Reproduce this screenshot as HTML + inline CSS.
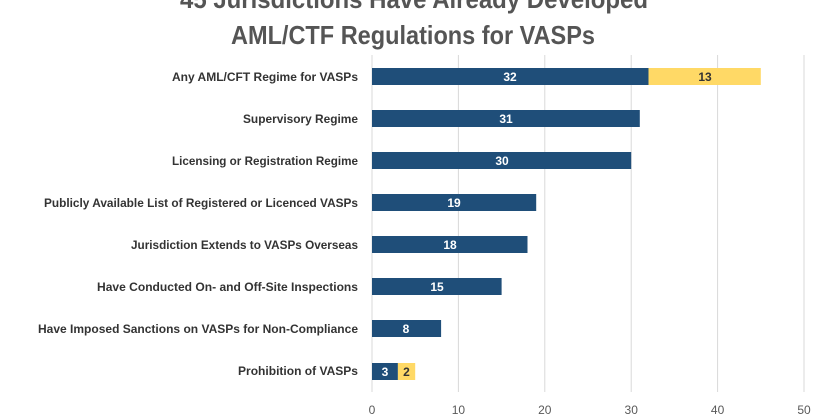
<!DOCTYPE html>
<html><head><style>body{margin:0;background:#fff}svg{display:block}</style></head>
<body>
<svg width="830" height="420" xmlns="http://www.w3.org/2000/svg" font-family="Liberation Sans, sans-serif">
<rect width="830" height="420" fill="#fff"/>
<g font-weight="bold" fill="#555" font-size="26">
<text x="180" y="8" textLength="468" lengthAdjust="spacingAndGlyphs">45 Jurisdictions Have Already Developed</text>
<text x="231" y="44" textLength="364" lengthAdjust="spacingAndGlyphs">AML/CTF Regulations for VASPs</text>
</g>
<g stroke="#d9d9d9" stroke-width="1">
<line x1="372" y1="55" x2="372" y2="392"/>
<line x1="458.4" y1="55" x2="458.4" y2="392"/>
<line x1="544.8" y1="55" x2="544.8" y2="392"/>
<line x1="631.2" y1="55" x2="631.2" y2="392"/>
<line x1="717.6" y1="55" x2="717.6" y2="392"/>
<line x1="804" y1="55" x2="804" y2="392"/>
</g>
<g font-size="12" fill="#595959" text-anchor="middle">
<text x="372" y="414">0</text><text x="458.4" y="414">10</text><text x="544.8" y="414">20</text>
<text x="631.2" y="414">30</text><text x="717.6" y="414">40</text><text x="804" y="414">50</text>
</g>
<g font-size="12" font-weight="bold" fill="#333">
<text x="172" y="81" textLength="186" lengthAdjust="spacingAndGlyphs">Any AML/CFT Regime for VASPs</text>
<text x="243" y="123" textLength="115" lengthAdjust="spacingAndGlyphs">Supervisory Regime</text>
<text x="172" y="165" textLength="186" lengthAdjust="spacingAndGlyphs">Licensing or Registration Regime</text>
<text x="44" y="207" textLength="314" lengthAdjust="spacingAndGlyphs">Publicly Available List of Registered or Licenced VASPs</text>
<text x="131" y="249" textLength="227" lengthAdjust="spacingAndGlyphs">Jurisdiction Extends to VASPs Overseas</text>
<text x="97" y="291" textLength="261" lengthAdjust="spacingAndGlyphs">Have Conducted On- and Off-Site Inspections</text>
<text x="38" y="333" textLength="320" lengthAdjust="spacingAndGlyphs">Have Imposed Sanctions on VASPs for Non-Compliance</text>
<text x="238" y="375" textLength="120" lengthAdjust="spacingAndGlyphs">Prohibition of VASPs</text>
</g>
<g fill="#1f4e79">
<rect x="372" y="68" width="276.5" height="17"/>
<rect x="372" y="110" width="267.8" height="17"/>
<rect x="372" y="152" width="259.2" height="17"/>
<rect x="372" y="194" width="164.2" height="17"/>
<rect x="372" y="236" width="155.5" height="17"/>
<rect x="372" y="278" width="129.6" height="17"/>
<rect x="372" y="320" width="69.1" height="17"/>
<rect x="372" y="363" width="25.9" height="17"/>
</g>
<g fill="#ffd966">
<rect x="648.5" y="68" width="112.3" height="17"/>
<rect x="397.9" y="363" width="17.3" height="17"/>
</g>
<g font-size="12" font-weight="bold" fill="#fff" text-anchor="middle">
<text x="510" y="81">32</text><text x="506" y="123">31</text><text x="502" y="165">30</text>
<text x="454" y="207">19</text><text x="450" y="249">18</text><text x="437" y="291">15</text>
<text x="406" y="333">8</text><text x="385" y="376">3</text>
</g>
<g font-size="12" font-weight="bold" fill="#333" text-anchor="middle">
<text x="705" y="81">13</text><text x="406.5" y="376">2</text>
</g>
</svg>
</body></html>
